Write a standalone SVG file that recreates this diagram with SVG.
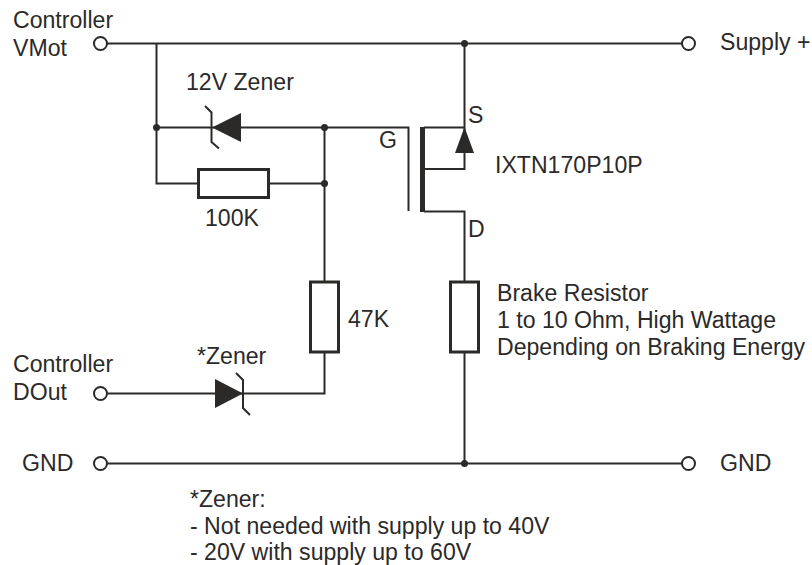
<svg xmlns="http://www.w3.org/2000/svg" width="812" height="565" viewBox="0 0 812 565">
<style>
text{font-family:"Liberation Sans",Arial,sans-serif;font-size:23.1px;fill:#2b2a29}
.w{fill:none;stroke:#2b2a29;stroke-width:2}
.r{fill:#fff;stroke:#2b2a29;stroke-width:3}
.t{fill:#fff;stroke:#2b2a29;stroke-width:2}
.d{fill:#2b2a29}
.f{fill:#2b2a29;stroke:none}
</style>
<rect width="812" height="565" fill="#fff"/>
<g id="connectors">
<path class="w" d="M106 43.500H682M106 463.500H682M106 393.500H324.500V352M156.500 43.500V183.500H198M156.500 127.500H408.500V211M269 183.500H324.500M324.500 127.500V282M464.500 43.500V169H424M424 127.500H464.500M424 211.500H464.500V282M464.500 352V463.500"/>
<circle class="d" cx="156.500" cy="127.500" r="3.500"/>
<circle class="d" cx="324.500" cy="127.500" r="3.500"/>
<circle class="d" cx="324.500" cy="183.500" r="3.500"/>
<circle class="d" cx="464.500" cy="43.500" r="3.500"/>
<circle class="d" cx="464.500" cy="463.500" r="3.500"/>
</g>
<g id="term-vmot"><circle class="t" cx="100.500" cy="43.500" r="6.500"/><text x="13" y="28">Controller</text><text x="13" y="56">VMot</text></g>
<g id="term-dout"><circle class="t" cx="100.500" cy="393.500" r="6.500"/><text x="13" y="372">Controller</text><text x="13" y="400">DOut</text></g>
<g id="term-gnd-left"><circle class="t" cx="100.500" cy="463.500" r="6.500"/><text x="22" y="471">GND</text></g>
<g id="term-supply"><circle class="t" cx="688.500" cy="43.500" r="6.500"/><text x="720" y="50">Supply +</text></g>
<g id="term-gnd-right"><circle class="t" cx="688.500" cy="463.500" r="6.500"/><text x="720" y="471">GND</text></g>
<g id="zener-12v"><polygon class="f" points="212,127.500 241,113 241,142"/><path class="w" d="M205 106L211.500 112.500V142L219 148.500"/><text x="186" y="90">12V Zener</text></g>
<g id="r-100k"><rect class="r" x="198.500" y="169.500" width="70" height="28"/><text x="205" y="226">100K</text></g>
<g id="r-47k"><rect class="r" x="310.500" y="282" width="28" height="70"/><text x="348" y="327">47K</text></g>
<g id="zener-star"><polygon class="f" points="215,379 215,408 243,393.500"/><path class="w" d="M236 373L243 380V408L250 415"/><text x="197" y="364">*Zener</text></g>
<g id="mosfet"><rect class="f" x="420" y="127" width="5" height="85"/><polygon class="f" points="464.500,127 455,153 474,153"/><text x="379" y="148">G</text><text x="468" y="123">S</text><text x="468" y="237">D</text><text x="495" y="173">IXTN170P10P</text></g>
<g id="brake-resistor"><rect class="r" x="450.500" y="282" width="28" height="70"/><text x="497" y="301">Brake Resistor</text><text x="497" y="328">1 to 10 Ohm, High Wattage</text><text x="497" y="355">Depending on Braking Energy</text></g>
<g id="note"><text x="190" y="507">*Zener:</text><text x="190" y="533.500">- Not needed with supply up to 40V</text><text x="190" y="559.500">- 20V with supply up to 60V</text></g>
</svg>
